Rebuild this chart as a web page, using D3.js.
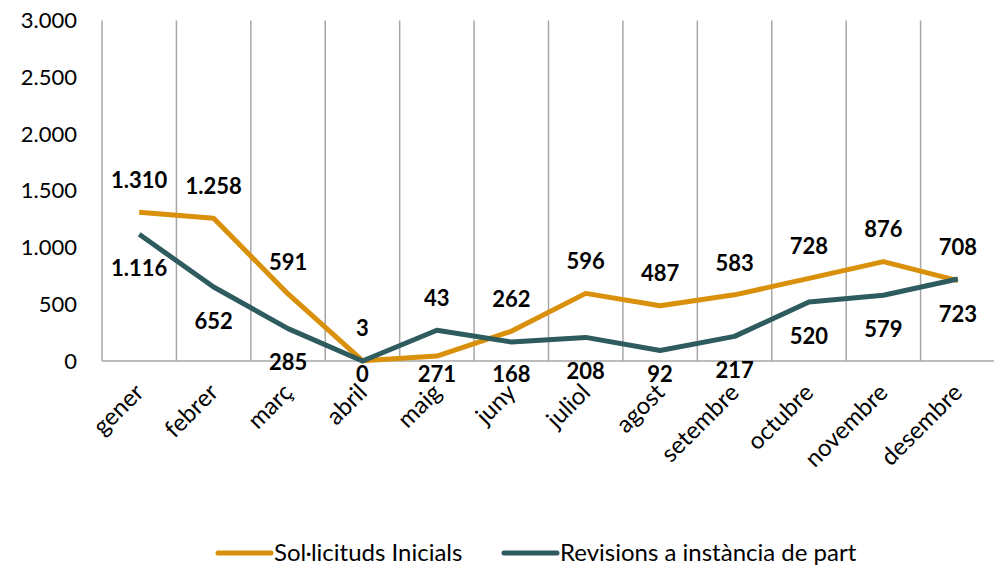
<!DOCTYPE html>
<html>
<head>
<meta charset="utf-8">
<script src="https://cdn.jsdelivr.net/npm/d3@7"></script>
<style>
  html, body { margin: 0; padding: 0; background: #fff; }
  svg text { font-family: Lato, "Open Sans", sans-serif; fill: #000; }
</style>
</head>
<body>
<div id="chart"></div>
<script>
// months on the x axis
const months = ["gener", "febrer", "març", "abril", "maig", "juny", "juliol",
                "agost", "setembre", "octubre", "novembre", "desembre"];

// series values
const inicials = [1310, 1258, 591, 3, 43, 262, 596, 487, 583, 728, 876, 708];
const revisions = [1116, 652, 285, 0, 271, 168, 208, 92, 217, 520, 579, 723];

// y axis ticks
const yTicks = [0, 500, 1000, 1500, 2000, 2500, 3000];

// legend names
const seriesNames = ["Sol·licituds Inicials", "Revisions a instància de part"];

(function(){
  "use strict";

  let width = 994;
  let height = 568;

  // plot area edges
  let left = 102;
  let right = 995;
  let top = 20.5;
  let bottom = 361;

  let orange = "#D9900B";
  let teal = "#2E5B5E";
  let gridColor = "#A6A6A6";

  // thousand separator is a dot, as in catalan
  let fmt = d3.formatLocale({decimal: ",", thousands: ".", grouping: [3], currency: ["", "€"]}).format(",d");

  let svg = d3.select("#chart")
              .append("svg")
              .attr("width", width)
              .attr("height", height);

  let x = d3.scaleBand()
            .domain(months)
            .range([left, right]);

  let y = d3.scaleLinear()
            .domain([0, 3000])
            .range([bottom, top]);

  let cx = i => x(months[i]) + x.bandwidth() / 2;

  // vertical gridlines between categories
  svg.append("g")
     .selectAll("line")
     .data(months)
     .enter().append("line")
             .attr("x1", d => x(d))
             .attr("x2", d => x(d))
             .attr("y1", y(3000))
             .attr("y2", y(0))
             .attr("stroke", gridColor)
             .attr("stroke-width", 1.5);

  // baseline
  svg.append("line")
     .attr("x1", left)
     .attr("x2", right)
     .attr("y1", y(0))
     .attr("y2", y(0))
     .attr("stroke", gridColor)
     .attr("stroke-width", 1.5);

  // y axis labels, no line or ticks
  let yAxis = svg.append("g")
                 .attr("transform", `translate(${left - 25},0)`)
                 .call(d3.axisLeft(y).tickValues(yTicks).tickFormat(fmt).tickSize(0).tickPadding(0));
  yAxis.select(".domain").remove();
  yAxis.selectAll("text")
       .style("font-size", "22px")
       .attr("fill", "#000");

  // x axis labels rotated
  let xAxis = svg.append("g")
                 .attr("transform", `translate(0,${bottom})`)
                 .call(d3.axisBottom(x).tickSize(0).tickPadding(0));
  xAxis.select(".domain").remove();
  xAxis.selectAll("text")
       .style("font-size", "24px")
       .attr("fill", "#000")
       .attr("text-anchor", "end")
       .attr("dy", "0.35em")
       .attr("transform", "translate(0,27) rotate(-45)");

  let line = d3.line()
               .x((d, i) => cx(i))
               .y(d => y(d));

  let series = [
    {name: seriesNames[0], values: inicials, color: orange},
    {name: seriesNames[1], values: revisions, color: teal}
  ];

  // draws orange first so teal sits on top
  series.forEach(s => {
    svg.append("path")
       .datum(s.values)
       .attr("d", line)
       .attr("fill", "none")
       .attr("stroke", s.color)
       .attr("stroke-width", 5)
       .attr("stroke-linejoin", "round");
  });

  // data labels: orange goes above both points, teal below both
  // (teal ones can't drop under the axis labels zone)
  let labelY = (s, i) => {
    let yo = y(inicials[i]);
    let yt = y(revisions[i]);
    if (s === 0) return Math.min(yo, yt) - 32;
    return Math.min(Math.max(yo, yt) + 34, 374);
  };

  series.forEach((s, si) => {
    svg.append("g")
       .selectAll("text")
       .data(s.values)
       .enter().append("text")
               .text(d => fmt(d))
               .attr("x", (d, i) => cx(i))
               .attr("y", (d, i) => labelY(si, i))
               .attr("dy", "0.35em")
               .attr("text-anchor", "middle")
               .style("font-size", "22px")
               .style("font-weight", "bold");
  });

  // legend at the bottom
  let legendX = [218, 504];
  let legend = svg.append("g")
                  .selectAll("g")
                  .data(series)
                  .enter().append("g")
                          .attr("transform", (d, i) => `translate(${legendX[i]},553)`);
  legend.append("line")
        .attr("x1", 0)
        .attr("x2", 53)
        .attr("stroke", d => d.color)
        .attr("stroke-width", 5)
        .attr("stroke-linecap", "round");
  legend.append("text")
        .text(d => d.name)
        .attr("x", 56)
        .attr("dy", "0.35em")
        .style("font-size", "24px");
})();
</script>
</body>
</html>
